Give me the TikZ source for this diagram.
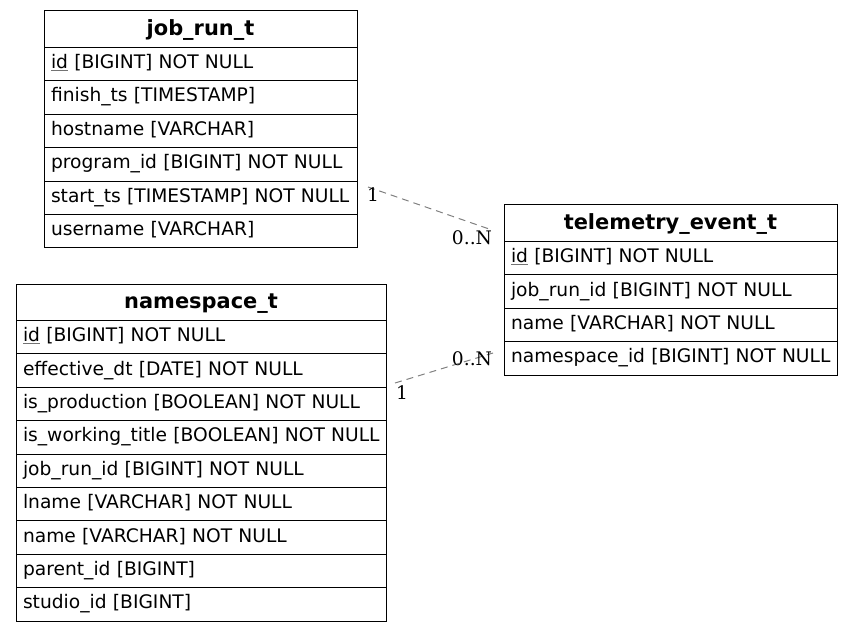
\documentclass[tikz,border=0pt]{standalone}
\usepackage{fontspec}
\setmainfont{DejaVu Sans}
\newfontfamily\lblfont{DejaVu Serif}
\newcommand{\pk}[1]{{\color{black!55}\underline{\textcolor{black}{#1}}}}
\begin{document}
\begin{tikzpicture}[x=0.75pt,y=-0.75pt,
  tbl/.style={draw=black, line width=0.75pt, rectangle, anchor=north west, inner ysep=0pt,
     outer sep=0pt, inner xsep={7*0.75pt}, font=\fontsize{14}{17}\selectfont},
  hdr/.style={tbl, minimum height={36.5*0.75pt}, align=center, text width={#1*0.75pt},
     text height=11.75pt, text depth=2.5pt, font=\fontsize{15.7}{18}\selectfont\bfseries},
  fld/.style={tbl, minimum height={33.4*0.75pt}, align=left, text width={#1*0.75pt},
     text height=10.6pt, text depth=4pt},
  conn/.style={draw=black!50, line width=0.75pt, dash pattern=on 5.25pt off 3.75pt},
  card/.style={font=\lblfont\fontsize{14}{17}\selectfont, inner sep=0pt}]
\useasboundingbox (0,0) rectangle (853,631);
% job_run_t
\node[hdr=299] (jr0) at (44,11) {job\_run\_t};
\node[fld=299] (jr1) at (jr0.south west) {\pk{id} [BIGINT] NOT NULL};
\node[fld=299] (jr2) at (jr1.south west) {finish\_ts [TIMESTAMP]};
\node[fld=299] (jr3) at (jr2.south west) {hostname [VARCHAR]};
\node[fld=299] (jr4) at (jr3.south west) {program\_id [BIGINT] NOT NULL};
\node[fld=299] (jr5) at (jr4.south west) {\mbox{start\_ts [TIMESTAMP] NOT NULL}};
\node[fld=299] (jr6) at (jr5.south west) {username [VARCHAR]};
% namespace_t
\node[hdr=356] (ns0) at (16,284) {namespace\_t};
\node[fld=356] (ns1) at (ns0.south west) {\pk{id} [BIGINT] NOT NULL};
\node[fld=356] (ns2) at (ns1.south west) {effective\_dt [DATE] NOT NULL};
\node[fld=356] (ns3) at (ns2.south west) {is\_production [BOOLEAN] NOT NULL};
\node[fld=356] (ns4) at (ns3.south west) {\mbox{is\_working\_title [BOOLEAN] NOT NULL}};
\node[fld=356] (ns5) at (ns4.south west) {job\_run\_id [BIGINT] NOT NULL};
\node[fld=356] (ns6) at (ns5.south west) {lname [VARCHAR] NOT NULL};
\node[fld=356] (ns7) at (ns6.south west) {name [VARCHAR] NOT NULL};
\node[fld=356] (ns8) at (ns7.south west) {parent\_id [BIGINT]};
\node[fld=356] (ns9) at (ns8.south west) {studio\_id [BIGINT]};
% telemetry_event_t
\node[hdr=319] (te0) at (504,205) {telemetry\_event\_t};
\node[fld=319] (te1) at (te0.south west) {\pk{id} [BIGINT] NOT NULL};
\node[fld=319] (te2) at (te1.south west) {job\_run\_id [BIGINT] NOT NULL};
\node[fld=319] (te3) at (te2.south west) {name [VARCHAR] NOT NULL};
\node[fld=319] (te4) at (te3.south west) {\mbox{namespace\_id [BIGINT] NOT NULL}};
% connectors
\coordinate (c1a) at (368,187);
\coordinate (c1b) at (492,230);
\draw[conn] (c1a) -- (c1b);
\node[card] (c1l1) at (373,195) {1};
\node[card] (c1l2) at (472,238) {0..N};
\coordinate (c2a) at (395,383);
\coordinate (c2b) at (493,353);
\draw[conn] (c2a) -- (c2b);
\node[card] (c2l1) at (402,393) {1};
\node[card] (c2l2) at (472,359) {0..N};
\end{tikzpicture}
\end{document}
